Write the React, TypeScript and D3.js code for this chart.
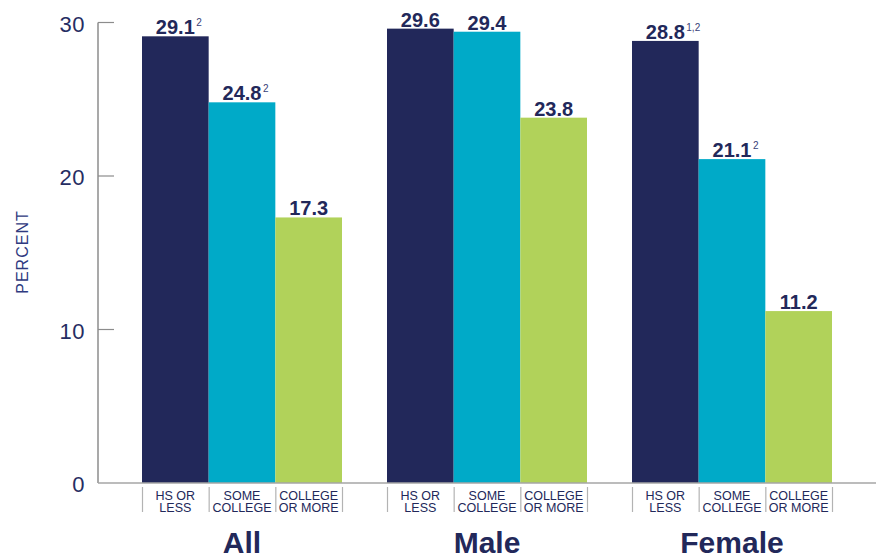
import * as d3 from "d3";
import { useEffect, useRef } from "react";

const groups = ["All", "Male", "Female"];
const categories = ["HS OR LESS", "SOME COLLEGE", "COLLEGE OR MORE"];
const categoryLines = [
  ["HS OR", "LESS"],
  ["SOME", "COLLEGE"],
  ["COLLEGE", "OR MORE"],
];
const allValues = [29.1, 24.8, 17.3];
const maleValues = [29.6, 29.4, 23.8];
const femaleValues = [28.8, 21.1, 11.2];
const allNotes = ["2", "2", ""];
const maleNotes = ["", "", ""];
const femaleNotes = ["1,2", "2", ""];
const yTicks = [0, 10, 20, 30];

const W = 876;
const H = 559;
const NAVY = "#22285a";
const colors = ["#22285a", "#00aac8", "#b1d25a"];
const font = "'Liberation Sans', Arial, sans-serif";

function drawChart(svgEl: SVGSVGElement) {
  const svg = d3.select(svgEl);
  svg.selectAll("*").remove();

  const values = [allValues, maleValues, femaleValues];
  const notes = [allNotes, maleNotes, femaleNotes];
  const data = groups.map((g, gi) => ({
    group: g,
    bars: categories.map((c, ci) => ({
      cat: c,
      ci,
      value: values[gi][ci],
      note: notes[gi][ci],
    })),
  }));

  const axisX = 98;
  const y = d3.scaleLinear().domain([0, 30]).range([483, 22.5]);
  const x0 = d3
    .scaleBand()
    .domain(groups)
    .range([142, 832])
    .paddingInner(45 / 245)
    .paddingOuter(0);
  const x1 = d3
    .scaleBand()
    .domain(categories)
    .range([0, x0.bandwidth()])
    .padding(0);

  // y axis
  svg
    .append("line")
    .attr("x1", axisX)
    .attr("x2", axisX)
    .attr("y1", y(30))
    .attr("y2", y(0))
    .attr("stroke", "#8c8c8c")
    .attr("stroke-width", 1.5);

  const tickG = svg.append("g");
  tickG
    .selectAll("line")
    .data(yTicks.filter((t) => t > 0))
    .enter()
    .append("line")
    .attr("x1", axisX)
    .attr("x2", axisX + 16)
    .attr("y1", (d) => y(d))
    .attr("y2", (d) => y(d))
    .attr("stroke", "#8c8c8c")
    .attr("stroke-width", 1.2);
  tickG
    .selectAll("text")
    .data(yTicks)
    .enter()
    .append("text")
    .attr("x", 85)
    .attr("y", (d) => y(d) + 9)
    .attr("text-anchor", "end")
    .attr("fill", "#262d62")
    .style("font-family", font)
    .style("font-size", "22px")
    .style("letter-spacing", "0.5px")
    .text((d) => d);

  // y label
  svg
    .append("text")
    .attr("transform", "translate(28,252)rotate(-90)")
    .attr("text-anchor", "middle")
    .attr("fill", "#2f3a80")
    .style("font-family", font)
    .style("font-size", "16px")
    .style("letter-spacing", "1px")
    .text("PERCENT");

  // bars
  const gs = svg
    .append("g")
    .selectAll("g")
    .data(data)
    .enter()
    .append("g")
    .attr("transform", (d) => `translate(${x0(d.group)},0)`);

  gs.selectAll("rect")
    .data((d) => d.bars)
    .enter()
    .append("rect")
    .attr("x", (d) => x1(d.cat) as number)
    .attr("y", (d) => y(d.value))
    .attr("width", x1.bandwidth())
    .attr("height", (d) => y(0) - y(d.value))
    .attr("fill", (d) => colors[d.ci]);

  // value labels
  gs.each(function (gd) {
    const g = d3.select(this);
    gd.bars.forEach((b) => {
      const cx = (x1(b.cat) as number) + x1.bandwidth() / 2;
      const t = g
        .append("text")
        .attr("x", cx)
        .attr("y", y(b.value) - 2)
        .attr("text-anchor", "middle")
        .attr("fill", NAVY)
        .style("font-family", font)
        .style("font-weight", "bold")
        .style("font-size", "20px")
        .text(b.value.toFixed(1));
      if (b.note) {
        const w = (t.node() as SVGTextElement).getComputedTextLength();
        g.append("text")
          .attr("x", cx + w / 2 + 1.5)
          .attr("y", y(b.value) - 10)
          .attr("fill", "#3a4278")
          .style("font-family", font)
          .style("font-size", "10px")
          .text(b.note);
      }
    });

    // category separators and labels
    const seps = [0, 1, 2, 3].map((i) => i * x1.bandwidth());
    g.selectAll("line.sep")
      .data(seps)
      .enter()
      .append("line")
      .attr("class", "sep")
      .attr("x1", (d) => d + 0.5)
      .attr("x2", (d) => d + 0.5)
      .attr("y1", 487)
      .attr("y2", 512)
      .attr("stroke", "#b3b3b3")
      .attr("stroke-width", 1.2);

    categories.forEach((c, ci) => {
      const cx = (x1(c) as number) + x1.bandwidth() / 2;
      const txt = g
        .append("text")
        .attr("text-anchor", "middle")
        .attr("fill", NAVY)
        .style("font-family", font)
        .style("font-size", "12.5px");
      categoryLines[ci].forEach((line, li) => {
        txt
          .append("tspan")
          .attr("x", cx)
          .attr("y", 499.5 + li * 12.5)
          .text(line);
      });
    });

    g.append("text")
      .attr("x", x0.bandwidth() / 2)
      .attr("y", 553)
      .attr("text-anchor", "middle")
      .attr("fill", NAVY)
      .style("font-family", font)
      .style("font-weight", "bold")
      .style("font-size", "30px")
      .text(gd.group);
  });

  // baseline
  svg
    .append("line")
    .attr("x1", axisX)
    .attr("x2", W)
    .attr("y1", y(0))
    .attr("y2", y(0))
    .attr("stroke", "#a6a6a6")
    .attr("stroke-width", 1.5);
}

export default function App() {
  const ref = useRef<SVGSVGElement>(null);
  useEffect(() => {
    if (ref.current) drawChart(ref.current);
  }, []);
  return (
    <svg
      ref={ref}
      width={W}
      height={H}
      style={{ position: "absolute", left: 0, top: 0, background: "#fff" }}
    />
  );
}
